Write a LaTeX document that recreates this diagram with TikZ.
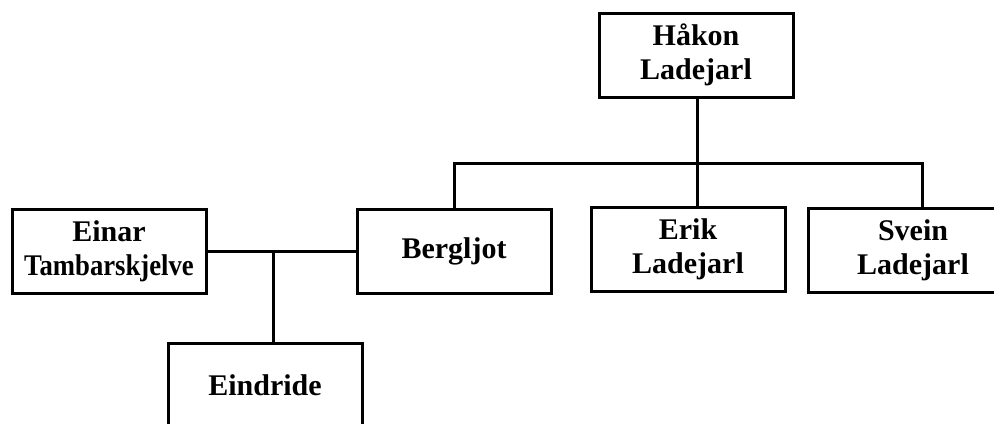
\documentclass[tikz,border=0pt]{standalone}
\usepackage{fontspec}
\setmainfont{Liberation Serif}

\begin{document}
\begin{tikzpicture}[x=0.5pt, y=-0.5pt, line width=1.5pt,
    person/.style={draw, rectangle, minimum width=97pt, minimum height=42pt, inner sep=0pt, align=center, font=\bfseries\fontsize{15}{17}\selectfont}]
      \useasboundingbox (0, 0) rectangle (994, 423);

      \node[person] (hakon) at (696, 55) {Håkon\\Ladejarl};
      \node[person] (einar) at (109, 251) {Einar\\\scalebox{0.89}[1]{Tambarskjelve}};
      \node[person] (bergljot) at (454, 251) {Bergljot};
      \node[person] (erik) at (688, 249) {Erik\\Ladejarl};
      \node[person, minimum width=105pt] (svein) at (913, 250) {Svein\\Ladejarl};
      \node[person] (eindride) at (265, 385) {Eindride};

      \coordinate (split) at (697, 163);
      \coordinate (sveinup) at (922, 163);
      \coordinate (wed) at (273, 251);

      \draw (hakon.south -| split) -- (split);
      \draw (bergljot.north) |- (sveinup) -- (sveinup |- svein.north);
      \draw (split) -- (split |- erik.north);
      \draw (einar.east) -- (bergljot.west);
      \draw (wed) -- (wed |- eindride.north);
    \end{tikzpicture}
\end{document}
